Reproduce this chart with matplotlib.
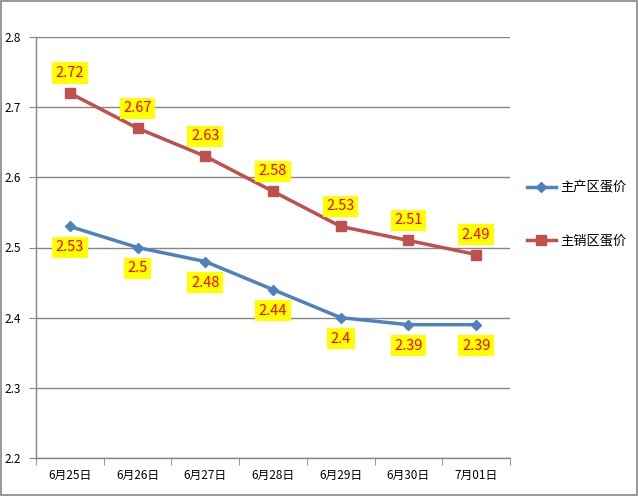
import matplotlib
matplotlib.use("Agg")
import matplotlib.pyplot as plt
from matplotlib.patches import Rectangle

plt.rcParams['font.family'] = ['Noto Sans CJK SC', 'DejaVu Sans']

categories = ["6月25日", "6月26日", "6月27日", "6月28日", "6月29日", "6月30日", "7月01日"]
producing = [2.53, 2.50, 2.48, 2.44, 2.40, 2.39, 2.39]
selling = [2.72, 2.67, 2.63, 2.58, 2.53, 2.51, 2.49]
series_names = ["主产区蛋价", "主销区蛋价"]
yticks = [2.2, 2.3, 2.4, 2.5, 2.6, 2.7, 2.8]

fig = plt.figure(figsize=(6.38, 4.96), dpi=100)
fig.patches.append(Rectangle((0.002, 0.002), 0.996, 0.996, transform=fig.transFigure,
                             fill=False, edgecolor='#868686', linewidth=1.2))
ax = fig.add_axes([36/638, 38/496, (510-36)/638, (458-37)/496])

x = list(range(len(categories)))
blue = '#4F81BD'
red = '#C0504D'
ax.plot(x, producing, color=blue, linewidth=2.5, marker='D', markersize=5, label=series_names[0], zorder=3)
ax.plot(x, selling, color=red, linewidth=2.5, marker='s', markersize=6.5, label=series_names[1], zorder=3)

bbox = dict(boxstyle='square,pad=0.25', facecolor='#FFFF00', edgecolor='none')
for xi, v in zip(x, producing):
    ax.annotate(f"{v:g}", (xi, v), xytext=(0, -21), textcoords='offset pixels',
                ha='center', va='center', color='#FF0000', fontsize=10.5, bbox=bbox, zorder=4)
for xi, v in zip(x, selling):
    ax.annotate(f"{v:g}", (xi, v), xytext=(0, 20), textcoords='offset pixels',
                ha='center', va='center', color='#FF0000', fontsize=10.5, bbox=bbox, zorder=4)

ax.set_xlim(-0.5, len(categories) - 0.5)
ax.set_ylim(2.2, 2.8)
ax.set_yticks(yticks)
ax.set_yticklabels([f"{t:g}" for t in yticks], fontsize=8.5)
ax.set_xticks(x)
ax.set_xticklabels(categories, fontsize=8.5)
ax.set_xticks([i - 0.5 for i in range(len(categories) + 1)], minor=True)
ax.tick_params(axis='x', which='major', length=0, pad=8)
ax.tick_params(axis='x', which='minor', length=5, color='#868686', direction='out')
ax.tick_params(axis='y', length=5, color='#868686', direction='out', pad=6)
ax.grid(axis='y', color='#868686', linewidth=1)
ax.set_axisbelow(True)
for s in ['top', 'right']:
    ax.spines[s].set_visible(False)
for s in ['left', 'bottom']:
    ax.spines[s].set_color('#868686')
    ax.spines[s].set_linewidth(1)

leg = fig.legend(loc='center left', bbox_to_anchor=(515/638, 1 - 214.5/496), frameon=False,
                 fontsize=9.5, handlelength=2.2, labelspacing=3.0, handletextpad=0.3)

fig.savefig("out.png", dpi=100)
